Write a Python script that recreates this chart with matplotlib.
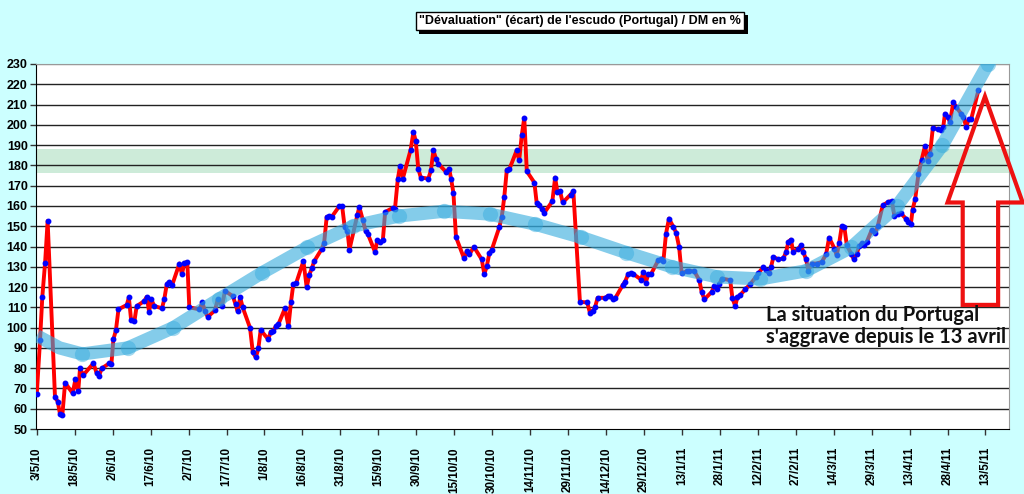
import numpy as np
import pandas as pd
import matplotlib
matplotlib.use("Agg")
import matplotlib.pyplot as plt
import matplotlib.patheffects as pe
from matplotlib.patches import Polygon

# days since 3/5/2010 and the devaluation value (%)
day_offsets = [
    0, 1.3, 2.2, 3.3, 4.3, 7.2, 8.3, 9.2, 10.1, 11.2, 14.2, 15.3, 16.4, 17.1, 18.4,
    22.4, 23.7, 24.6, 25.7, 28.7, 29.5, 30.3, 31.3, 32.3, 35.6, 36.4, 37.3, 38.6, 39.5,
    42.5, 43.5, 44.4, 45.3, 46.4, 49.5, 50.4, 51.4, 52.4, 53.5, 56.4, 57.4, 58.3, 59.5,
    60.3, 64.3, 65.5, 66.4, 67.6, 70.5, 71.5, 73.2, 74.4, 77.5, 78.6, 79.4, 80.4, 81.4,
    84.3, 85.4, 86.6, 87.6, 88.5, 91.5, 92.5, 93.5, 94.5, 95.5, 98.1, 99.5, 100.5, 101.4,
    102.5, 105.4, 106.7, 107.7, 108.7, 109.7, 112.6, 113.6, 114.6, 115.7, 116.6, 119.6,
    120.7, 121.7, 122.8, 123.6, 126.7, 127.5, 128.9, 130.0, 130.8, 133.7, 134.6, 135.7,
    136.8, 137.7, 140.7, 141.6, 142.7, 143.6, 144.7, 147.8, 148.9, 149.8, 150.8, 151.8,
    154.8, 155.8, 156.8, 157.8, 158.7, 161.8, 163.0, 163.8, 164.7, 165.7, 168.9, 170.0,
    171.0, 172.8, 175.9, 176.9, 177.9, 178.9, 179.8, 182.8, 183.8, 184.8, 185.8, 186.8,
    189.7, 190.7, 191.7, 192.7, 193.7, 196.7, 197.6, 198.7, 199.6, 200.6, 203.8, 204.9,
    205.8, 206.8, 207.9, 211.0, 212.1, 214.7, 217.6, 218.7, 219.8, 220.7, 221.7, 224.6,
    225.7, 226.6, 227.7, 228.6, 231.6, 232.5, 233.8, 234.9, 235.8, 238.9, 239.8, 240.7,
    241.7, 242.8, 245.7, 246.8, 247.7, 248.7, 249.9, 251.6, 252.7, 253.9, 254.9, 256.9,
    257.9, 259.9, 261.9, 262.8, 263.9, 266.8, 267.8, 268.8, 269.8, 270.8, 274.1, 275.0,
    276.1, 276.9, 278.0, 280.0, 282.0, 284.3, 285.2, 287.2, 288.3, 289.3, 290.2, 291.2,
    293.1, 295.1, 296.2, 297.1, 298.1, 299.0, 301.0, 302.1, 303.0, 304.1, 305.0, 306.3,
    308.3, 310.3, 312.0, 313.2, 315.3, 316.2, 317.2, 318.2, 319.2, 320.2, 321.9, 323.0,
    324.1, 325.0, 326.1, 327.0, 328.1, 330.0, 331.4, 332.4, 334.4, 336.6, 338.0, 339.0,
    340.6, 341.6, 343.5, 344.5, 345.5, 346.2, 347.2, 348.5, 349.8, 351.1, 352.2, 353.1,
    354.2, 356.1, 357.4, 358.3, 359.0, 360.1, 361.0, 362.3, 363.4, 365.4, 366.3, 367.4,
    368.3, 369.4, 372.2,
]
ecart = [
    67.1, 93.8, 115.2, 132.1, 152.6, 65.9, 63.5, 57.2, 56.7, 72.8, 67.6, 74.6, 68.7, 79.9, 76.6,
    82.4, 77.4, 76.3, 79.9, 82.4, 82.0, 94.2, 98.8, 109.0, 111.2, 114.9, 103.7, 103.2, 110.6,
    113.1, 115.2, 107.8, 113.9, 110.7, 109.5, 114.0, 121.4, 122.6, 120.9, 131.6, 126.2, 131.9, 132.4,
    110.0, 109.0, 112.4, 108.3, 105.3, 108.6, 113.9, 110.6, 118.1, 115.5, 111.4, 108.1, 114.9, 110.0,
    99.9, 87.8, 85.3, 89.8, 98.8, 94.2, 98.0, 98.3, 100.7, 101.6, 109.5, 100.7, 112.7, 121.3,
    121.8, 132.8, 119.8, 125.9, 129.2, 132.8, 138.7, 141.8, 154.6, 154.9, 154.6, 159.9,
    160.0, 149.7, 147.7, 138.5, 155.4, 159.5, 153.0, 147.5, 146.4, 137.3, 143.1, 142.0,
    143.1, 157.0, 159.0, 158.7, 173.2, 179.7, 173.5, 187.8, 196.5, 191.9, 178.4, 174.0,
    173.5, 177.6, 187.4, 183.3, 180.9, 176.7, 178.4, 173.2, 166.4, 144.7, 134.1, 137.8,
    136.1, 139.8, 133.6, 126.4, 130.3, 136.8, 138.2, 149.4, 154.6, 164.4, 177.9, 178.1,
    187.4, 182.5, 194.8, 203.5, 177.1, 171.5, 161.5, 160.3, 158.7, 156.6, 162.3, 174.0,
    166.9, 167.4, 161.7, 165.6, 167.2, 112.7, 112.4, 107.0, 108.3, 110.2, 114.7, 114.7,
    115.5, 115.5, 114.0, 114.4, 120.9, 122.6, 126.4, 126.7, 126.4, 123.7, 127.5, 122.1,
    126.2, 126.4, 133.3, 133.6, 132.9, 146.1, 153.8, 149.7, 146.9, 139.8, 126.7, 127.8,
    128.0, 127.8, 123.4, 117.6, 114.0, 117.6, 120.6, 119.1, 121.3, 124.2, 123.4, 114.4,
    110.6, 114.9, 116.0, 118.8, 121.4, 125.0, 126.7, 130.0, 128.3, 127.0, 129.7, 134.9,
    133.6, 134.1, 137.3, 142.3, 143.4, 137.3, 139.0, 140.6, 137.3, 133.6, 128.0, 131.6,
    131.6, 132.4, 136.1, 144.4, 139.0, 135.7, 141.8, 150.0, 149.7, 140.6, 136.5, 133.6,
    136.2, 140.1, 141.5, 140.6, 142.3, 148.0, 146.5, 150.0, 160.3, 162.0, 162.5, 155.1,
    155.9, 156.3, 153.8, 152.1, 151.0, 158.2, 163.3, 175.6, 182.9, 189.6, 182.0, 185.8,
    198.6, 197.8, 197.3, 198.9, 205.5, 203.8, 201.4, 211.2, 208.8, 205.5, 203.8, 198.9,
    202.7, 203.0, 217.0,
]

# trend curve (thick light-blue line with dots)
trend_days = [0, 9, 18, 36, 54, 72, 89, 107, 125, 143, 161, 179, 197, 215, 233, 251,
              269, 286, 304, 322, 340, 358, 376, 384]
trend_values = [96, 90, 87, 90, 100, 114, 127, 139.6, 150, 155, 157.4, 156, 151, 144.6,
                137, 130, 125, 124, 128, 139.6, 160, 190, 230, 252]

tick_labels = ["3/5/10", "18/5/10", "2/6/10", "17/6/10", "2/7/10", "17/7/10", "1/8/10",
               "16/8/10", "31/8/10", "15/9/10", "30/9/10", "15/10/10", "30/10/10",
               "14/11/10", "29/11/10", "14/12/10", "29/12/10", "13/1/11", "28/1/11",
               "12/2/11", "27/2/11", "14/3/11", "29/3/11", "13/4/11", "28/4/11", "13/5/11"]
tick_days = np.arange(len(tick_labels)) * 15

band_low, band_high = 176, 188

plt.rcParams['font.family'] = ['Liberation Sans', 'DejaVu Sans']

fig = plt.figure(figsize=(10.24, 4.94), dpi=100, facecolor='#CCFFFF')
ax = fig.add_axes([36 / 1024, 1 - 429 / 494, (1009 - 36) / 1024, (429 - 64) / 494])
ax.set_facecolor('white')

ax.axhspan(band_low, band_high, color='#cdebd9', zorder=0.5, lw=0)
for v in range(60, 231, 10):
    ax.axhline(v, color='#222222' if v < 230 else '#999999', lw=1, zorder=0.8)

ax.plot(day_offsets, ecart, color='#FF0000', lw=2.8, zorder=3,
        marker='o', ms=3.2, mfc='#0000FF', mec='#0000FF', solid_joinstyle='round')

ax.plot(trend_days, trend_values, color='#33AADD', alpha=0.6, lw=9.5,
        solid_capstyle='butt', zorder=4)
ax.plot(trend_days[2:-1], trend_values[2:-1], ls='none', marker='o', ms=11,
        mfc='#33AADD', mec='none', alpha=0.45, zorder=4)

ax.set_xlim(-0.3, 384.3)
ax.set_ylim(50, 230)
ax.set_yticks(range(50, 231, 10))
ax.set_xticks(tick_days)
ax.set_xticklabels(tick_labels, rotation=90, fontsize=8.4, fontweight='bold')
for lab in ax.get_yticklabels():
    lab.set_fontsize(9)
    lab.set_fontweight('bold')
ax.tick_params(axis='both', length=4, width=1, color='#333333', pad=2)
ax.tick_params(axis='x', pad=9)
ax.spines['left'].set_color('black')
ax.spines['bottom'].set_color('black')
ax.spines['top'].set_color('#999999')
ax.spines['right'].set_color('#999999')

# red arrow outline
arrow_pts = [(374.8, 214), (389.7, 161.7), (380, 161.7), (380, 111.2),
             (366, 111.2), (366, 161.7), (360, 161.7)]
ax.add_patch(Polygon(arrow_pts, closed=True, fill=False, edgecolor='#EE1111',
                     lw=3, clip_on=False, zorder=6, joinstyle='miter'))

ax.text(288.3, 101.0, "La situation du Portugal\ns'aggrave depuis le 13 avril",
        fontsize=14.5, fontweight='bold', family=['Lato', 'DejaVu Sans'],
        ha='left', va='center', linespacing=1.12, zorder=7, color='#111111')

t = fig.text(580 / 1024, 1 - 21 / 494,
             "\"Dévaluation\" (écart) de l'escudo (Portugal) / DM en %",
             ha='center', va='center', fontsize=9, fontweight='bold',
             family=['Liberation Sans Narrow', 'Liberation Sans', 'DejaVu Sans'],
             bbox=dict(boxstyle='square,pad=0.25', fc='white', ec='black', lw=1))
t.get_bbox_patch().set_path_effects([pe.withSimplePatchShadow(offset=(2.5, -2.5),
                                                               shadow_rgbFace='black', alpha=1)])

fig.savefig('out.png', dpi=100, facecolor=fig.get_facecolor())
